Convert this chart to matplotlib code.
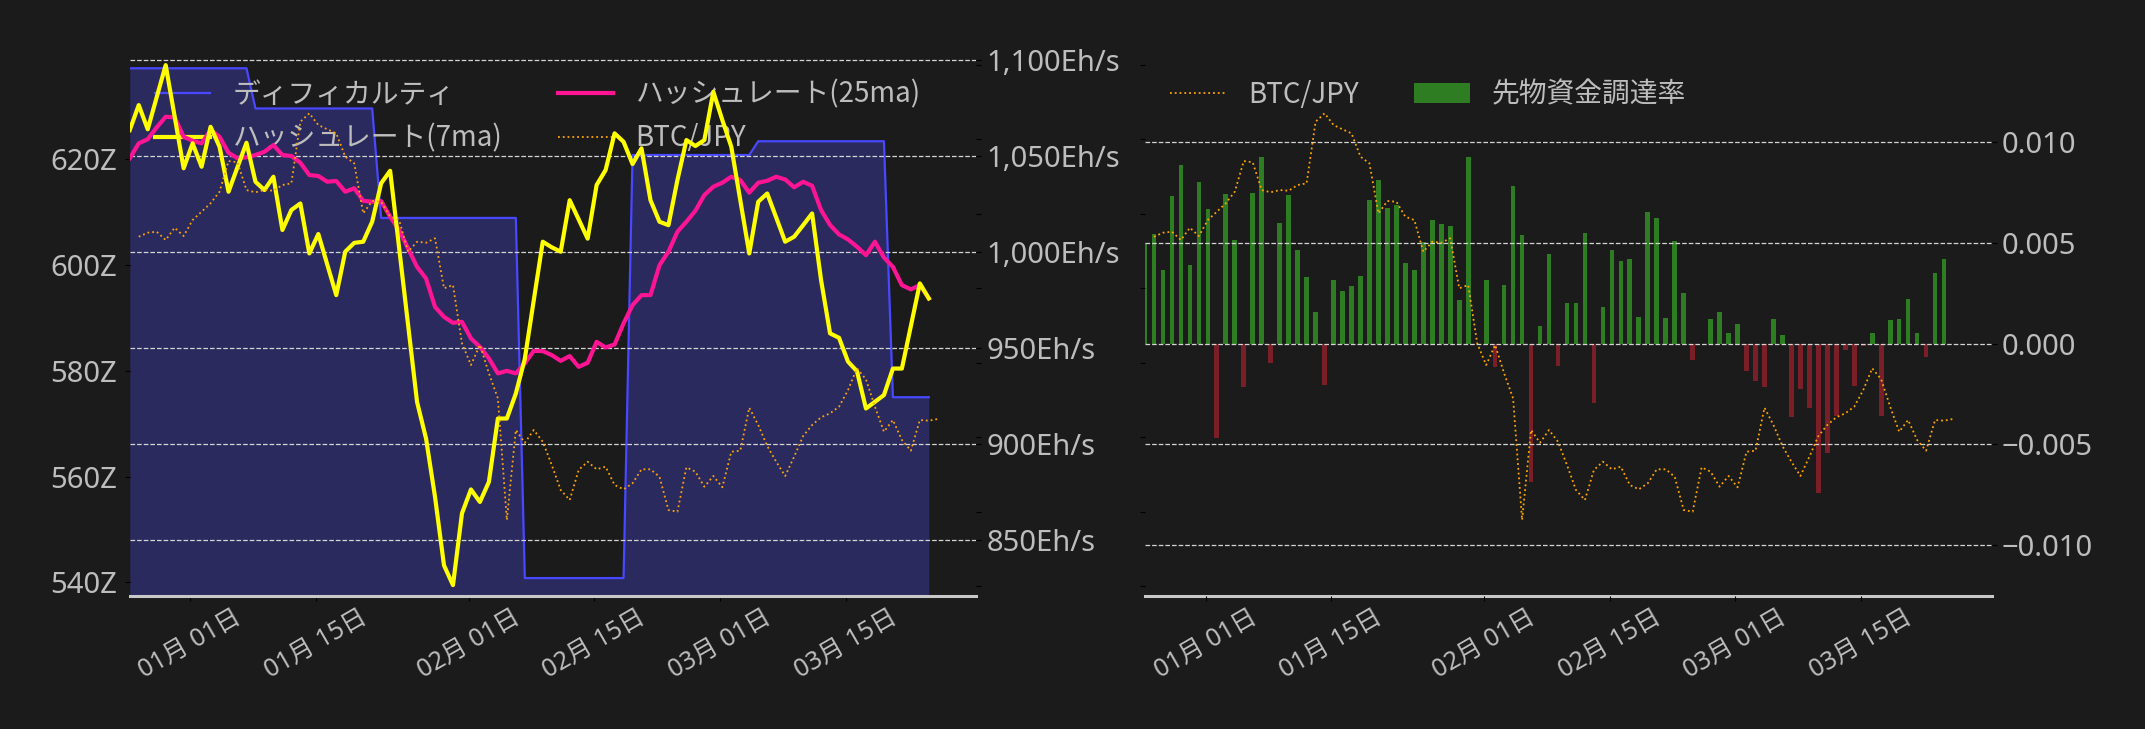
import matplotlib

matplotlib.use("Agg")
import matplotlib.pyplot as plt
import matplotlib.dates as mdates
import matplotlib.ticker as mticker
import pandas as pd

plt.rcParams["font.family"] = ["Noto Sans", "Noto Sans CJK JP", "DejaVu Sans"]

BG = "#1b1b1b"
TEXT = "#bdbdbd"
GRID = "#d4d4d4"
LEGEND_FONT = {"family": ["Noto Sans CJK JP", "DejaVu Sans"], "size": 20}

# daily series, first point 2024-12-25
dates = pd.date_range("2024-12-25 06:00", periods=90, freq="D")
btc_dates = pd.date_range("2024-12-26 06:00", periods=90, freq="D")

difficulty_z = [
    637.2, 637.2, 637.2, 637.2, 637.2, 637.2, 637.2, 637.2, 637.2, 637.2,
    637.2, 637.2, 637.2, 637.2, 629.6, 629.6, 629.6, 629.6, 629.6, 629.6,
    629.6, 629.6, 629.6, 629.6, 629.6, 629.6, 629.6, 629.6, 608.9, 608.9,
    608.9, 608.9, 608.9, 608.9, 608.9, 608.9, 608.9, 608.9, 608.9, 608.9,
    608.9, 608.9, 608.9, 608.9, 540.8, 540.8, 540.8, 540.8, 540.8, 540.8,
    540.8, 540.8, 540.8, 540.8, 540.8, 540.8, 620.8, 620.8, 620.8, 620.8,
    620.8, 620.8, 620.8, 620.8, 620.8, 620.8, 620.8, 620.8, 620.8, 620.8,
    623.4, 623.4, 623.4, 623.4, 623.4, 623.4, 623.4, 623.4, 623.4, 623.4,
    623.4, 623.4, 623.4, 623.4, 623.4, 575.0, 575.0, 575.0, 575.0, 575.0,
]

hashrate_7ma = [
    1063.5, 1076.5, 1063.9, 1080.6, 1097.3, 1070.5, 1043.6, 1056.6, 1044.4, 1065.2,
    1054.8, 1031.4, 1044.2, 1056.9, 1036.6, 1032.3, 1039.2, 1011.5, 1021.9, 1025.3,
    999.3, 1009.4, 993.5, 977.6, 1000.2, 1004.8, 1005.4, 1015.8, 1035.8, 1042.3,
    1002.2, 962.1, 922.0, 903.0, 872.6, 837.0, 826.7, 864.0, 876.5, 870.0,
    880.4, 913.4, 913.4, 926.4, 944.5, 975.0, 1005.4, 1002.5, 1000.2, 1027.0,
    1017.0, 1007.0, 1034.9, 1042.7, 1061.8, 1057.4, 1045.8, 1054.0, 1027.0, 1015.8,
    1014.0, 1037.5, 1058.3, 1055.2, 1058.3, 1083.4, 1068.7, 1054.8, 1027.0, 999.3,
    1026.2, 1030.5, 1018.0, 1005.4, 1008.0, 1014.0, 1020.1, 985.4, 957.7, 955.4,
    943.0, 938.0, 918.6, 922.1, 925.6, 939.4, 939.4, 961.5, 983.7, 975.9,
]

hashrate_25ma = [
    1048.8, 1056.6, 1058.7, 1064.9, 1070.4, 1070.1, 1060.0, 1057.9, 1056.6, 1063.5,
    1060.0, 1051.7, 1048.8, 1049.3, 1050.5, 1052.2, 1055.7, 1050.5, 1050.0, 1046.5,
    1040.1, 1039.6, 1036.6, 1037.0, 1031.4, 1033.2, 1026.7, 1026.2, 1026.5, 1018.4,
    1011.5, 1001.9, 992.3, 986.3, 971.5, 966.3, 963.2, 963.7, 955.1, 950.7,
    944.7, 936.9, 938.2, 936.9, 942.1, 948.6, 948.5, 946.4, 943.4, 945.9,
    940.3, 942.4, 953.3, 950.4, 951.9, 962.9, 972.4, 977.6, 977.6, 993.2,
    1000.2, 1010.6, 1015.8, 1021.5, 1029.7, 1034.0, 1036.1, 1039.2, 1037.5, 1030.9,
    1036.1, 1037.1, 1039.2, 1037.8, 1033.7, 1036.6, 1034.5, 1021.9, 1014.1, 1009.2,
    1006.6, 1002.8, 998.4, 1005.4, 997.2, 992.3, 982.8, 980.6, 982.8, 975.9,
]

btc_jpy = [
    15693000, 15747000, 15760000, 15649000, 15814000, 15702000, 15917000, 16029000, 16142000, 16298000,
    16710000, 16693000, 16320000, 16290000, 16320000, 16311000, 16388000, 16410000, 17238000, 17351000,
    17194000, 17136000, 17082000, 16768000, 16679000, 16007000, 16173000, 16163000, 15962000, 15917000,
    15491000, 15626000, 15612000, 15672000, 15000000, 15044000, 14261000, 13969000, 14238000, 13858000,
    13522000, 11887000, 13096000, 12925000, 13096000, 12939000, 12626000, 12290000, 12155000, 12559000,
    12670000, 12568000, 12603000, 12357000, 12299000, 12380000, 12568000, 12568000, 12468000, 12021000,
    11998000, 12595000, 12536000, 12334000, 12478000, 12326000, 12804000, 12818000, 13396000, 13163000,
    12881000, 12670000, 12478000, 12737000, 13015000, 13163000, 13267000, 13320000, 13409000, 13633000,
    13925000, 13777000, 13409000, 13073000, 13230000, 12962000, 12818000, 13230000, 13221000, 13244000,
]

funding_rate = [
    0.00500, 0.00546, 0.00367, 0.00734, 0.00888, 0.00392, 0.00804, 0.00670, -0.00470, 0.00744,
    0.00516, -0.00217, 0.00749, 0.00928, -0.00098, 0.00600, 0.00739, 0.00466, 0.00333, 0.00159,
    -0.00207, 0.00318, 0.00263, 0.00288, 0.00337, 0.00715, 0.00814, 0.00675, 0.00690, 0.00402,
    0.00367, 0.00506, 0.00615, 0.00596, 0.00586, 0.00218, 0.00928, 0.00000, 0.00318, -0.00117,
    0.00293, 0.00784, 0.00541, -0.00688, 0.00086, 0.00447, -0.00108, 0.00203, 0.00203, 0.00551,
    -0.00294, 0.00184, 0.00466, 0.00412, 0.00422, 0.00134, 0.00655, 0.00625, 0.00129, 0.00511,
    0.00253, -0.00083, 0.00000, 0.00124, 0.00159, 0.00055, 0.00099, -0.00137, -0.00187, -0.00215,
    0.00124, 0.00045, -0.00366, -0.00227, -0.00321, -0.00741, -0.00543, -0.00361, -0.00033, -0.00212,
    -0.00013, 0.00055, -0.00361, 0.00119, 0.00124, 0.00223, 0.00055, -0.00068, 0.00352, 0.00422,
]


def style_main(ax):
    for side in ("top", "left", "right"):
        ax.spines[side].set_visible(False)
    ax.spines["bottom"].set_color("#c8c8c8")
    ax.spines["bottom"].set_linewidth(2.2)
    ax.xaxis.set_major_locator(mdates.DayLocator(bymonthday=[1, 15]))
    ax.xaxis.set_major_formatter(mdates.DateFormatter("%m月 %d日"))
    ax.tick_params(axis="x", labelrotation=30, labelsize=18, labelcolor=TEXT, color="black")
    ax.tick_params(axis="y", labelsize=21, labelcolor=TEXT, color="black")


def hide_spines(ax):
    for spine in ax.spines.values():
        spine.set_visible(False)


def rate_fmt(v, _):
    if abs(v) < 1e-12:
        v = 0.0
    return f"{v:.3f}".replace("-", "\u2212")


fig = plt.figure(figsize=(21.45, 7.29), dpi=100, facecolor=BG)
ax_l = fig.add_axes([0.0605, 0.1831, 0.3947, 0.7421], facecolor=BG)
ax_r = fig.add_axes([0.5338, 0.1831, 0.3947, 0.7421], facecolor=BG)
x_start = dates[0]
x_end = dates[0] + pd.Timedelta(days=94.3)

# left: difficulty / hashrate / btc
ax_l.fill_between(dates, difficulty_z, 500, color="#2a2a5e", lw=0)
diff_line, = ax_l.plot(dates, difficulty_z, color="#4848ff", lw=1.6, label="ディフィカルティ")
ax_l.set_ylim(537.5, 639.8)
ax_l.yaxis.set_major_locator(mticker.MultipleLocator(20))
ax_l.yaxis.set_major_formatter(mticker.FuncFormatter(lambda v, _: f"{v:.0f}Z"))
style_main(ax_l)
ax_l.tick_params(axis="y", pad=5.5)

ax_h = ax_l.twinx()
hide_spines(ax_h)
h25, = ax_h.plot(dates, hashrate_25ma, color="#ff1493", lw=3, label="ハッシュレート(25ma)")
h7, = ax_h.plot(dates, hashrate_7ma, color="#ffff00", lw=3, label="ハッシュレート(7ma)")
ax_h.set_ylim(821.3, 1102.8)
ax_h.yaxis.set_major_locator(mticker.MultipleLocator(50))
ax_h.yaxis.set_major_formatter(mticker.FuncFormatter(lambda v, _: f"{v:,.0f}Eh/s"))
ax_h.tick_params(axis="y", labelsize=21, labelcolor=TEXT, color="black")
ax_h.grid(axis="y", color=GRID, ls="--", lw=0.9)

ax_lb = ax_l.twinx()
hide_spines(ax_lb)
btc_l, = ax_lb.plot(btc_dates, btc_jpy, color="#ffa500", ls=":", lw=1.3, label="BTC/JPY")
ax_lb.set_ylim(10.872e6, 18.141e6)
ax_lb.yaxis.set_major_locator(mticker.MultipleLocator(1e6))
ax_lb.tick_params(axis="y", labelright=False, color="black")

ax_l.legend(handles=[diff_line, h7, h25, btc_l], ncol=2, loc="upper left",
            frameon=False, prop=LEGEND_FONT, labelcolor=TEXT)

# right: funding rate / btc
bar_colors = ["#2e7d22" if v >= 0 else "#7a1f27" for v in funding_rate]
bars = ax_r.bar(dates, funding_rate, width=0.52, color=bar_colors, label="先物資金調達率")
ax_r.set_ylim(-0.0125, 0.01436)
ax_r.yaxis.set_major_locator(mticker.MultipleLocator(0.005))
ax_r.yaxis.set_major_formatter(mticker.FuncFormatter(rate_fmt))
ax_r.grid(axis="y", color=GRID, ls="--", lw=0.9)
ax_r.set_axisbelow(False)
style_main(ax_r)

ax_rb = ax_r.twinx()
hide_spines(ax_rb)
btc_r, = ax_rb.plot(btc_dates, btc_jpy, color="#ffa500", ls=":", lw=1.3, label="BTC/JPY")
ax_rb.set_ylim(10.872e6, 18.141e6)
ax_rb.yaxis.set_major_locator(mticker.MultipleLocator(1e6))
ax_rb.yaxis.tick_left()
ax_rb.tick_params(axis="y", labelleft=False, labelright=False, color="black")
ax_r.yaxis.tick_right()

ax_rb.legend(handles=[btc_r, bars], ncol=2, loc="upper left",
             frameon=False, prop=LEGEND_FONT, labelcolor=TEXT)

for ax in (ax_l, ax_r):
    ax.set_xlim(x_start, x_end)

fig.savefig("out.png", facecolor=BG)
